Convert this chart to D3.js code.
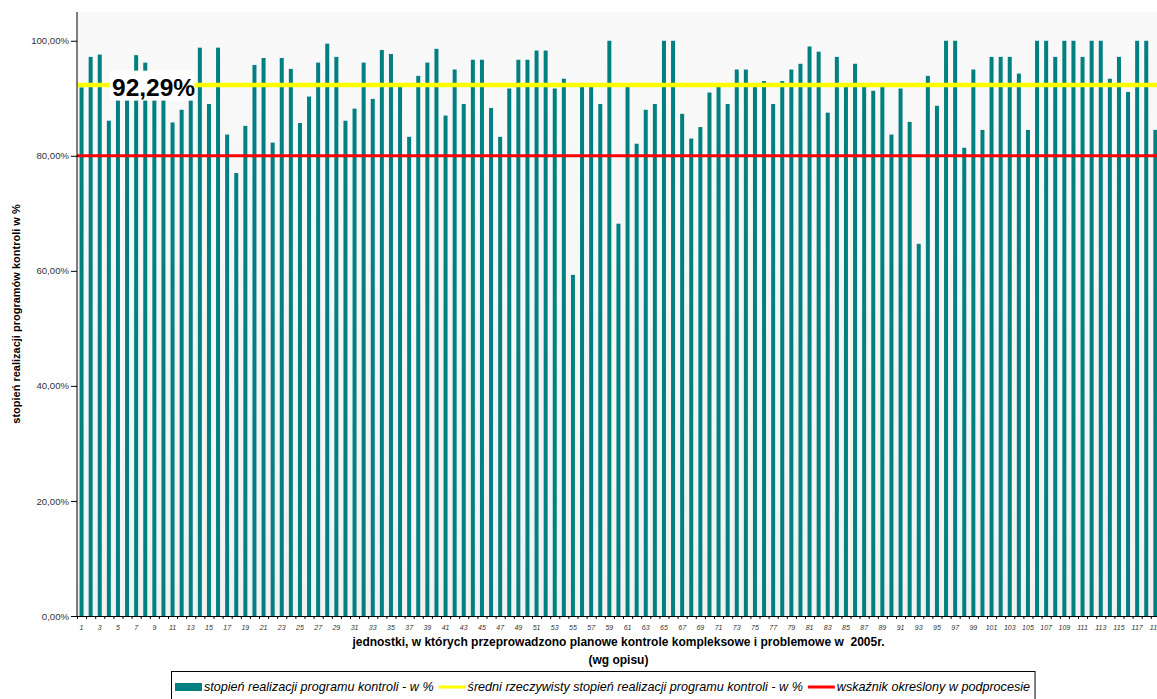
<!DOCTYPE html>
<html>
<head>
<meta charset="utf-8">
<script src="https://cdn.jsdelivr.net/npm/d3@7"></script>
<style>
  body { margin: 0; background: #ffffff; }
  svg { display: block; font-family: "Liberation Sans", Arial, sans-serif; }
</style>
</head>
<body>
<div id="chart"></div>
<script>
// units 1..119, values (%)
var units = d3.range(1, 120);
var values = [
  91.9, 97.2, 97.6, 86.1, 92.0, 92.0, 97.5, 96.2, 92.0, 92.0,
  85.8, 88.0, 92.0, 98.8, 89.0, 98.8, 83.7, 77.0, 85.2, 95.8,
  97.0, 82.3, 97.0, 95.1, 85.7, 90.3, 96.2, 99.5, 97.2, 86.1,
  88.2, 96.2, 89.9, 98.4, 97.7, 92.3, 83.3, 93.9, 96.2, 98.6,
  87.0, 95.0, 89.0, 96.7, 96.7, 88.3, 83.3, 91.7, 96.7, 96.7,
  98.3, 98.3, 91.7, 93.4, 59.3, 92.3, 92.3, 89.0, 100.0, 68.2,
  92.3, 82.1, 88.0, 89.0, 100.0, 100.0, 87.3, 83.0, 85.0, 91.0,
  92.3, 89.0, 95.0, 95.0, 92.3, 93.0, 89.0, 93.0, 95.0, 96.0,
  99.0, 98.1, 87.5, 97.2, 92.3, 96.0, 92.3, 91.3, 92.3, 83.7,
  91.7, 85.9, 64.7, 93.9, 88.7, 100.0, 100.0, 81.4, 95.0, 84.5,
  97.2, 97.2, 97.2, 94.3, 84.5, 100.0, 100.0, 97.2, 100.0, 100.0,
  97.2, 100.0, 100.0, 93.4, 97.2, 91.1, 100.0, 100.0, 84.5
];
var meanValue = 92.29;
var targetValue = 80;
var yTicks = [0, 20, 40, 60, 80, 100];
var legendLabels = [
  "stopień realizacji programu kontroli - w %",
  "średni rzeczywisty stopień realizacji programu kontroli - w %",
  "wskaźnik określony w podprocesie"
];

var width = 1157, height = 699;
var plotLeft = 77, plotTop = 12, plotBottom = 616;
var step = 9.1;
var plotRight = plotLeft + units.length * step;
var barColor = "#008080", meanColor = "#ffff00", targetColor = "#ff0000";

var svg = d3.select("#chart").append("svg")
  .attr("width", width)
  .attr("height", height);

// 1. scales
var xScale = d3.scaleBand()
  .domain(units)
  .range([plotLeft, plotRight])
  .paddingInner(0.56)
  .paddingOuter(0.28);
var xEdge = d3.scaleLinear()
  .domain([0, units.length])
  .range([plotLeft, plotRight]);
var yScale = d3.scaleLinear()
  .domain([0, 105])
  .range([plotBottom, plotTop]);

// 2. plot background
var grad = svg.append("defs").append("linearGradient")
  .attr("id", "bg").attr("x1", 0).attr("y1", 0).attr("x2", 0).attr("y2", 1);
grad.append("stop").attr("offset", "0%").attr("stop-color", "#f9f9f9");
grad.append("stop").attr("offset", "100%").attr("stop-color", "#f2f2f2");
svg.append("rect")
  .attr("x", plotLeft).attr("y", plotTop)
  .attr("width", plotRight - plotLeft).attr("height", plotBottom - plotTop)
  .attr("fill", "url(#bg)");

// 3. bars
svg.selectAll("rect.bar").data(values)
  .enter().append("rect")
  .attr("class", "bar")
  .attr("x", function (d, i) { return xScale(units[i]); })
  .attr("width", xScale.bandwidth())
  .attr("y", function (d) { return yScale(d); })
  .attr("height", function (d) { return yScale(0) - yScale(d); })
  .attr("fill", barColor);

// 4. mean and target lines
svg.append("line")
  .attr("x1", plotLeft).attr("x2", plotRight)
  .attr("y1", yScale(meanValue)).attr("y2", yScale(meanValue))
  .attr("stroke", meanColor).attr("stroke-width", 4.5);
svg.append("line")
  .attr("x1", plotLeft).attr("x2", plotRight)
  .attr("y1", yScale(targetValue)).attr("y2", yScale(targetValue))
  .attr("stroke", targetColor).attr("stroke-width", 3);

// mean label with white box
var labelG = svg.append("g");
var labelText = labelG.append("text")
  .attr("x", 112)
  .attr("y", yScale(meanValue) + 10.5)
  .attr("font-size", "24.5px")
  .attr("font-weight", "bold")
  .attr("fill", "#000")
  .text(meanValue.toFixed(2).replace(".", ",") + "%");
var bb = labelText.node().getBBox();
labelG.insert("rect", "text")
  .attr("x", bb.x - 2).attr("y", bb.y - 3)
  .attr("width", bb.width + 1).attr("height", bb.height + 3)
  .attr("fill", "#ffffff");

// 5. axes
var yAxis = d3.axisLeft(yScale)
  .tickValues(yTicks)
  .tickSize(6)
  .tickPadding(2)
  .tickFormat(function (d) { return d.toFixed(2).replace(".", ",") + "%"; });
var yG = svg.append("g")
  .attr("transform", "translate(" + plotLeft + ",0)")
  .call(yAxis);
yG.select(".domain").attr("d", "M0," + plotTop + "V" + plotBottom).attr("stroke", "#000");
yG.selectAll("text").attr("font-size", "9.6px").attr("fill", "#333").attr("font-family", null);

var xTickG = svg.append("g")
  .attr("transform", "translate(0," + plotBottom + ")")
  .call(d3.axisBottom(xEdge).tickValues(d3.range(0, units.length + 1)).tickSize(3).tickFormat(""));
xTickG.select(".domain").attr("stroke", "#000");

var xLabG = svg.append("g")
  .attr("transform", "translate(0," + plotBottom + ")")
  .call(d3.axisBottom(xScale)
    .tickValues(units.filter(function (d) { return d % 2 == 1; }))
    .tickSize(0).tickPadding(9));
xLabG.select(".domain").remove();
xLabG.selectAll("text")
  .attr("font-size", "7px").attr("font-style", "italic")
  .attr("fill", "#333").attr("font-family", null);

// 6. titles
svg.append("text")
  .attr("transform", "translate(20," + (plotTop + plotBottom) / 2 + ")rotate(-90)")
  .attr("text-anchor", "middle")
  .attr("font-size", "11px").attr("font-weight", "bold")
  .text("stopień realizacji programów kontroli w %");
var xTitle = svg.append("text")
  .attr("text-anchor", "middle")
  .attr("font-size", "12px").attr("font-weight", "bold")
  .style("white-space", "pre");
xTitle.append("tspan").attr("x", (plotLeft + plotRight) / 2).attr("y", 646)
  .text("jednostki, w których przeprowadzono planowe kontrole kompleksowe i problemowe w  2005r.");
xTitle.append("tspan").attr("x", (plotLeft + plotRight) / 2).attr("y", 664)
  .text("(wg opisu)");

// 7. legend
var legend = svg.append("g");
var legendBox = legend.append("rect")
  .attr("fill", "#fff").attr("stroke", "#000").attr("stroke-width", 1);
var lx = 175, ly = 687;
var swatchColors = [barColor, meanColor, targetColor];
legendLabels.forEach(function (lab, i) {
  if (i == 0) {
    legend.append("rect").attr("x", lx).attr("y", ly - 4)
      .attr("width", 27).attr("height", 8).attr("fill", swatchColors[i]);
  } else {
    legend.append("line").attr("x1", lx).attr("x2", lx + 27)
      .attr("y1", ly).attr("y2", ly)
      .attr("stroke", swatchColors[i]).attr("stroke-width", 3);
  }
  var t = legend.append("text")
    .attr("x", lx + 29).attr("y", ly + 4)
    .attr("font-size", "12.6px").attr("font-style", "italic")
    .text(lab);
  lx = lx + 29 + t.node().getComputedTextLength() + 5;
});
legendBox.attr("x", 171.5).attr("y", 671.5)
  .attr("width", lx - 171.5).attr("height", 34);
</script>
</body>
</html>
